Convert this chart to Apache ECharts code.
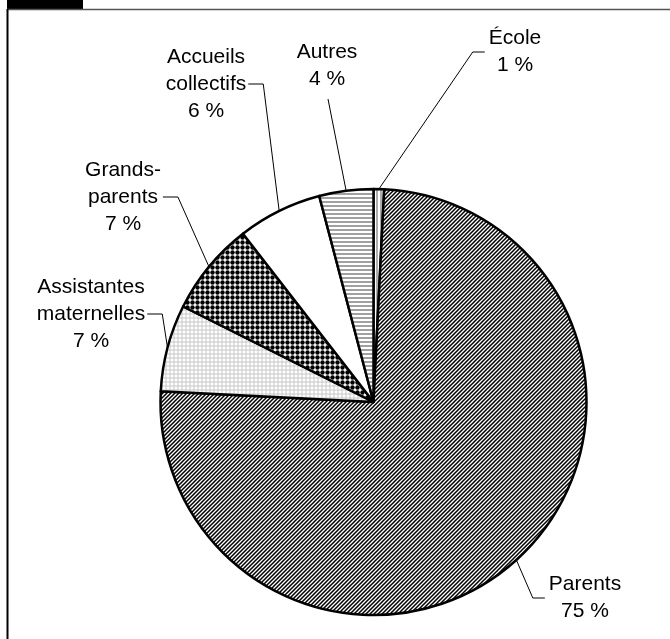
<!DOCTYPE html>
<html>
<head>
<meta charset="utf-8">
<script src="https://cdn.jsdelivr.net/npm/echarts@6/dist/echarts.min.js"></script>
<style>
  html, body { margin: 0; padding: 0; background: #fff; }
  #main { width: 670px; height: 639px; }
</style>
</head>
<body>
<div id="main"></div>
<script>
// data, clockwise from 12 o'clock
var categories = ["École", "Parents", "Assistantes\nmaternelles", "Grands-\nparents", "Accueils\ncollectifs", "Autres"];
var shares = [0.8, 75, 6.6, 7.1, 6.4, 4.1];
var shareLabels = ["1 %", "75 %", "7 %", "7 %", "6 %", "4 %"];

// label placement (centre of text block) and which side the leader joins
var labelSpots = [
  { x: 515, y: 52, side: "left" },
  { x: 585, y: 598, side: "left" },
  { x: 91, y: 314, side: "right" },
  { x: 123, y: 197, side: "right" },
  { x: 206, y: 84, side: "right" },
  { x: 327, y: 66, side: "bottom" }
];

function makeTile(w, h, draw) {
  var c = document.createElement("canvas");
  c.width = w; c.height = h;
  var ctx = c.getContext("2d");
  ctx.fillStyle = "#fff";
  ctx.fillRect(0, 0, w, h);
  draw(ctx);
  return { image: c, repeat: "repeat" };
}

var fills = [
  // ecole: thin vertical lines
  makeTile(4, 4, function (ctx) {
    ctx.strokeStyle = "#777"; ctx.lineWidth = 1.2;
    ctx.beginPath(); ctx.moveTo(1, 0); ctx.lineTo(1, 4); ctx.stroke();
  }),
  // parents: dense diagonal hatch
  makeTile(4, 4, function (ctx) {
    ctx.strokeStyle = "#000"; ctx.lineWidth = 1.5;
    ctx.beginPath();
    ctx.moveTo(-1, 5); ctx.lineTo(5, -1);
    ctx.moveTo(-1, 1); ctx.lineTo(1, -1);
    ctx.moveTo(3, 5); ctx.lineTo(5, 3);
    ctx.stroke();
  }),
  // assistantes: small light rings
  makeTile(4, 4, function (ctx) {
    ctx.strokeStyle = "#b5b5b5"; ctx.lineWidth = 0.8;
    ctx.beginPath(); ctx.arc(2, 2, 1.2, 0, Math.PI * 2); ctx.stroke();
  }),
  // grands-parents: black dots
  makeTile(5, 5, function (ctx) {
    ctx.fillStyle = "#000";
    ctx.beginPath(); ctx.arc(2.5, 2.5, 2.2, 0, Math.PI * 2); ctx.fill();
  }),
  // accueils: plain white
  "#fff",
  // autres: horizontal grey lines
  makeTile(4, 4, function (ctx) {
    ctx.strokeStyle = "#8a8a8a"; ctx.lineWidth = 1.6;
    ctx.beginPath(); ctx.moveTo(0, 2); ctx.lineTo(4, 2); ctx.stroke();
  })
];

var pieData = categories.map(function (name, i) {
  return { name: name, value: shares[i], itemStyle: { color: fills[i] } };
});

var myChart = echarts.init(document.getElementById("main"), null, { renderer: "canvas" });

var option = {
  animation: false,
  backgroundColor: "#fff",
  graphic: [
    { type: "rect", shape: { x: 7, y: 0, width: 76, height: 9 }, style: { fill: "#000" } },
    { type: "line", shape: { x1: 7, y1: 9.5, x2: 670, y2: 9.5 }, style: { stroke: "#555", lineWidth: 1.5 } },
    { type: "line", shape: { x1: 7.5, y1: 9, x2: 7.5, y2: 639 }, style: { stroke: "#000", lineWidth: 2 } }
  ],
  series: [
    {
      type: "pie",
      center: [373.5, 402],
      radius: 213,
      startAngle: 90,
      clockwise: true,
      avoidLabelOverlap: false,
      silent: true,
      emphasis: { disabled: true },
      itemStyle: { borderColor: "#000", borderWidth: 2.5 },
      label: {
        show: true,
        position: "outside",
        color: "#000",
        fontFamily: "Liberation Sans, Arial, sans-serif",
        fontSize: 21,
        lineHeight: 27,
        align: "center",
        formatter: function (p) {
          return p.name + "\n" + shareLabels[p.dataIndex];
        }
      },
      labelLine: {
        show: true,
        length: 10,
        length2: 10,
        smooth: false,
        lineStyle: { color: "#000", width: 1 }
      },
      labelLayout: function (params) {
        var s = labelSpots[params.dataIndex];
        var w = params.labelRect.width;
        var h = params.labelRect.height;
        var start = params.labelLinePoints ? params.labelLinePoints[0] : [s.x, s.y];
        var pts;
        if (s.side === "right") {
          var ex = s.x + w / 2 + 2;
          pts = [start, [ex + 15, s.y], [ex, s.y]];
        } else if (s.side === "left") {
          var lx = s.x - w / 2 - 4;
          pts = [start, [lx - 12, s.y], [lx, s.y]];
        } else {
          var by = s.y + h / 2 + 6;
          pts = [start, [s.x + 1, by], [s.x + 1, by]];
        }
        return {
          x: s.x,
          y: s.y,
          align: "center",
          verticalAlign: "middle",
          labelLinePoints: pts
        };
      },
      data: pieData
    }
  ]
};

if (option && typeof option === "object") {
  myChart.setOption(option);
}
window.addEventListener("resize", myChart.resize);
</script>
</body>
</html>
